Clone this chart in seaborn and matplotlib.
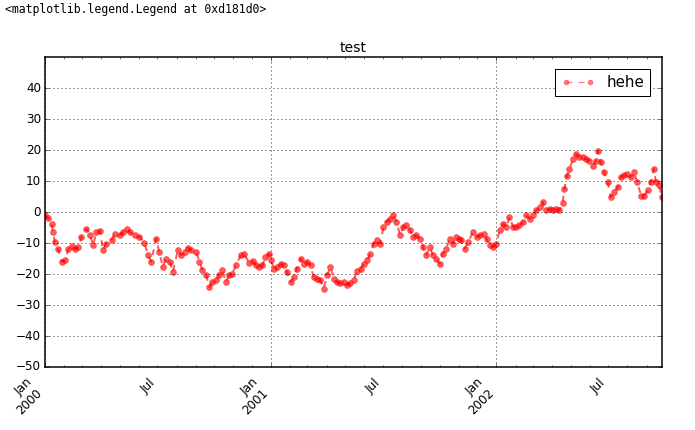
import numpy as np
import pandas as pd
import matplotlib
matplotlib.use("Agg")
import matplotlib.pyplot as plt
import matplotlib.dates as mdates
from matplotlib.ticker import FuncFormatter
import seaborn as sns

start_date = "2000-01-01"
day_offsets = [
    0, 5, 11, 13, 16, 21, 27, 32, 38, 43, 48, 54, 59, 67, 73, 78, 83, 89, 94, 99,
    108, 113, 121, 126, 132, 137, 145, 153, 161, 167, 172, 180, 185, 191, 196, 202,
    207, 215, 220, 226, 231, 237, 245, 250, 255, 261, 266, 271, 277, 282, 287, 293,
    298, 303, 309, 317, 322, 331, 336, 341, 347, 352, 357, 363, 366, 371, 376, 382,
    387, 392, 398, 403, 408, 414, 419, 424, 430, 435, 440, 446, 451, 457, 462, 468,
    473, 478, 484, 489, 494, 500, 505, 511, 516, 521, 527, 532, 537, 543, 548, 553,
    559, 564, 569, 575, 580, 585, 591, 596, 601, 607, 612, 617, 623, 628, 633, 639,
    644, 650, 655, 660, 666, 671, 674, 680, 685, 693, 699, 704, 710, 715, 720, 726,
    731, 736, 742, 747, 752, 758, 763, 768, 774, 779, 785, 790, 795, 801, 806, 811,
    817, 822, 827, 833, 838, 841, 845, 849, 855, 860, 865, 871, 876, 881, 887, 892,
    895, 900, 905, 911, 916, 921, 927, 932, 938, 943, 948, 954, 959, 965, 970, 976,
    981, 986, 989, 994, 999,
]
values = [
    -1, -2, -4, -6.5, -9.7, -12, -16, -15.5, -12, -11, -12, -11.3, -8, -5.4, -7.5, -10.8, -6.5, -6, -12.4, -10.2,
    -9, -7, -7.5, -6.5, -5.4, -6.5, -7.5, -8, -10, -14, -16, -8.6, -13, -17.7, -15, -16,
    -19.4, -12.4, -14, -13, -11.5, -12.4, -13, -16, -18.8, -20.4, -24.2, -22.6, -22, -20.4, -18.8, -22.6,
    -20.4, -20, -17.2, -14, -13.4, -16.5, -15.8, -17.2, -17.7, -17.2, -14.5, -13.4, -15.6, -18.3, -17.7, -16.7,
    -17.2, -19.4, -22.6, -21, -18.3, -15, -16.7, -16, -17.2, -21, -21.5, -22, -24.7, -20.4, -17.7, -21.5,
    -22.6, -23, -22.6, -23.6, -23, -22, -19, -18.3, -16.7, -15.6, -13.4, -10.2, -9.1, -10.2, -4.8, -3.2,
    -2.2, -1.1, -3.2, -7.5, -4.8, -4.3, -5.9, -8, -7.5, -8.6, -11.3, -14, -11.3, -14, -15, -16.7,
    -13.4, -11.8, -8.6, -10.2, -8, -8.6, -9, -11.8, -9.7, -6.5, -8, -7.5, -7, -8.6, -10.8, -11.3,
    -10.2, -5.9, -3.8, -4.8, -1.6, -4.8, -4.8, -4.3, -3.2, -1.1, -2.2, -1.1, 0.5, 1.6, 3.2, 0.5,
    1.1, 0.5, 1.1, 0.5, 3, 7.5, 11.5, 13.9, 17.1, 18.7, 17.6, 17.6, 17.1, 16.6, 15, 16.6,
    19.8, 16, 12.8, 9.6, 4.8, 6.4, 8, 11.2, 11.8, 12.3, 11.2, 12.8, 9.6, 5.3, 5.3, 7,
    9.6, 13.9, 9.6, 8.6, 4.8,
]
series_label = "hehe"
chart_title = "test"
ytick_values = list(range(-50, 41, 10))
notebook_output = "<matplotlib.legend.Legend at 0xd181d0>"

plt.style.use("classic")
plt.rcParams.update({
    "figure.facecolor": "white",
    "savefig.facecolor": "white",
    "font.family": ["DejaVu Sans"],
})

dates = pd.Timestamp(start_date) + pd.to_timedelta(day_offsets, unit="D")
df = pd.DataFrame({"date": dates, "value": values})

W, H = 695, 430
fig = plt.figure(figsize=(W / 72, H / 72), dpi=72)
ax = fig.add_axes([45 / W, 1 - 367 / H, (662 - 45) / W, (367 - 57) / H])

sns.lineplot(data=df, x="date", y="value", ax=ax, color="red", linestyle="--",
             marker="o", markersize=6, markeredgecolor="red", markeredgewidth=0.5,
             alpha=0.65, linewidth=2, label=series_label)

ax.set_xlim(dates[0], dates[-1])
ax.set_ylim(-50, 50)
ax.set_yticks(ytick_values)
ax.set_xlabel("")
ax.set_ylabel("")

ax.xaxis.set_major_locator(mdates.MonthLocator(bymonth=1))
ax.xaxis.set_major_formatter(mdates.DateFormatter("%b\n%Y"))
ax.xaxis.set_minor_locator(mdates.MonthLocator())
ax.xaxis.set_minor_formatter(FuncFormatter(
    lambda x, pos: "Jul" if mdates.num2date(x).month == 7 else ""))
for lbl in ax.get_xticklabels(which="both"):
    lbl.set_rotation(45)
    lbl.set_ha("right")
ax.tick_params(axis="both", which="both", labelsize=12)
ax.tick_params(axis="x", which="both", pad=9)
for s in ax.spines.values():
    s.set_linewidth(1.5)

ax.grid(True, which="major", linestyle=":", color="k", linewidth=0.8)
ax.set_title(chart_title, fontsize=14)
leg = ax.legend(loc="upper right", numpoints=2, fontsize=15, fancybox=False,
                borderaxespad=0.8, handlelength=2.2)
for h in leg.get_lines():
    h.set_alpha(0.5)
    h.set_linewidth(1.2)
    h.set_markersize(5)

fig.text(5 / W, 1 - 10 / H, notebook_output, family="DejaVu Sans Mono",
         fontsize=11.5, va="center", ha="left")

fig.savefig("out.png", dpi=72)
